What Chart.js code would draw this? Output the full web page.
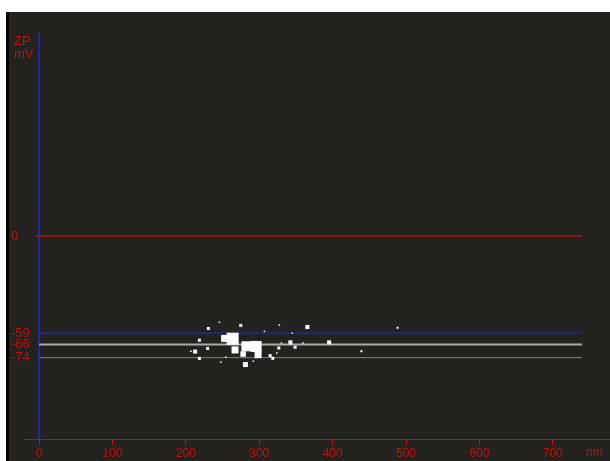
<!DOCTYPE html>
<html>
<head>
<meta charset="utf-8">
<script src="https://cdn.jsdelivr.net/npm/chart.js@4.4.0/dist/chart.umd.min.js"></script>
<style>
  html, body { margin: 0; padding: 0; background: #fff; }
  #panel {
    position: absolute; left: 6px; top: 12px;
    width: 604px; height: 449px;
    box-sizing: border-box;
    border-left: 3px solid #000;
    background: #23221e;
  }
  #panel canvas { display: block; }
</style>
</head>
<body>
<div id="panel"><canvas id="zpChart" width="601" height="449"></canvas></div>
<script>
// peaks: particle size (nm), zeta potential (mV), relative count
const sizes = [230.7, 245.7, 274.8, 327.4, 365.6, 252.8, 263.7, 218.4, 307.0, 345.1,
               295.7, 282.5, 267.0, 278.0, 298.4, 342.4, 359.3, 330.2, 395.2, 439.2,
               229.6, 212.6, 206.7, 218.4, 247.6, 254.4, 292.0, 314.8, 318.4, 323.9,
               326.6, 348.8, 281.1, 488.5];
const zeta  = [-56.3, -52.5, -54.4, -54.1, -55.4, -62.3, -62.5, -63.4, -58.0, -59.2,
               -67.2, -67.1, -69.3, -71.8, -72.2, -64.7, -65.1, -65.1, -64.7, -70.1,
               -68.4, -70.3, -70.1, -74.5, -76.8, -73.8, -76.2, -72.8, -74.4, -71.2,
               -68.1, -67.7, -78.2, -55.8];
const counts = [3, 1.5, 3, 1.5, 4, 7, 12, 3, 1.5, 1.5,
                11, 10, 7, 5.5, 7, 4, 1.5, 1.5, 4, 2,
                3, 4, 1.5, 3, 1.5, 1.5, 1.5, 3, 3, 1.5,
                3, 3, 5, 2];

const xTicks = [0, 100, 200, 300, 400, 500, 600, 700];
// zero, upper limit, mean, lower limit
const levels = [0, -59, -66, -74];
const lineEnd = 740;

const RED = '#c40f0f';

function hline(y, color, width, from) {
  return {
    type: 'line',
    data: [{ x: from, y: y }, { x: lineEnd, y: y }],
    borderColor: color,
    borderWidth: width,
    pointRadius: 0,
    fill: false
  };
}

// level labels on the left plus the ZP / mV and nm captions
const axisText = {
  id: 'axisText',
  afterDraw(chart) {
    const ctx = chart.ctx;
    const y = chart.scales.y;
    ctx.save();
    ctx.fillStyle = RED;
    ctx.textAlign = 'left';
    ctx.textBaseline = 'middle';
    ctx.font = '13px "Liberation Sans"';
    levels.forEach(v => ctx.fillText(String(v), 2, y.getPixelForValue(v)));
    ctx.fillText('ZP', 5, 29);
    ctx.fillText('mV', 5, 42);
    ctx.font = '12px "Liberation Sans"';
    ctx.fillText('nm', 577, 441);
    ctx.restore();
  }
};

const points = sizes.map((s, i) => ({ x: s, y: zeta[i] }));

new Chart(document.getElementById('zpChart'), {
  type: 'scatter',
  data: {
    datasets: [
      {
        data: points,
        pointStyle: 'rect',
        backgroundColor: '#ffffff',
        borderWidth: 0,
        pointRadius: ctx => counts[ctx.dataIndex] * 0.71
      },
      hline(levels[0], '#8c1414', 2, -5),
      hline(levels[1], '#1b2aa6', 1.5, 0),
      hline(levels[2], '#aaaaa6', 2, 0),
      hline(levels[3], '#7c7c78', 1, 0),
      {
        type: 'line',
        data: [{ x: 0, y: -123.5 }, { x: 0, y: 123.5 }],
        borderColor: '#1b2aa6',
        borderWidth: 2,
        pointRadius: 0
      }
    ]
  },
  options: {
    responsive: false,
    animation: false,
    layout: { autoPadding: false, padding: { left: 2, top: 21, right: 0, bottom: 0 } },
    plugins: { legend: { display: false }, tooltip: { enabled: false } },
    scales: {
      x: {
        type: 'linear',
        min: -22,
        max: 778,
        afterBuildTicks: s => { s.ticks = xTicks.map(v => ({ value: v })); },
        afterFit: s => { s.height = 22; s.paddingLeft = 0; s.paddingRight = 0; },
        grid: { drawOnChartArea: false, drawTicks: true, tickLength: 6, color: RED },
        border: { color: RED, width: 1 },
        ticks: {
          color: RED,
          font: { family: 'Liberation Sans', size: 12 },
          padding: 1,
          autoSkip: false,
          maxRotation: 0
        }
      },
      y: {
        type: 'linear',
        position: 'left',
        min: -123.5,
        max: 123.5,
        afterFit: s => { s.width = 12; },
        grid: { display: false },
        border: { display: false },
        ticks: { display: false }
      }
    }
  },
  plugins: [axisText]
});
</script>
</body>
</html>
